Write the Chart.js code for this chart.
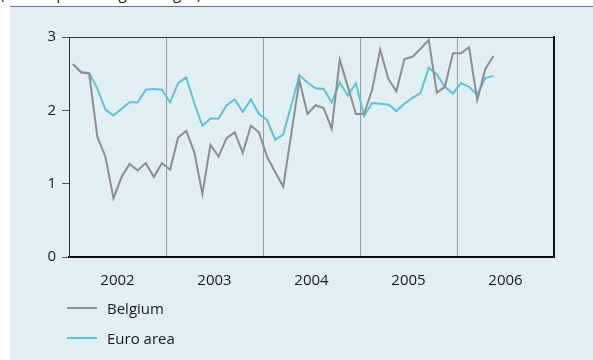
<!DOCTYPE html>
<html>
<head>
<meta charset="utf-8">
<script src="https://cdn.jsdelivr.net/npm/chart.js@4"></script>
<style>
  html, body { margin: 0; padding: 0; background: #fff; }
  body { width: 593px; height: 360px; position: relative; overflow: hidden; font-family: "Open Sans", sans-serif; }
  #caption { position: absolute; left: 0; top: 0; width: 593px; height: 6px; overflow: hidden; }
  #caption span { position: absolute; left: 0; top: -17px; font-size: 15px; line-height: 20px; color: #1a1a1a; white-space: nowrap; }
  #panel { position: absolute; left: 10px; top: 6px; right: 0; bottom: 0; background: #e1eef4; border-top: 1px solid #6b6bbd; }
  #chart { position: absolute; left: 0; top: 0; }
  .key { position: absolute; left: 67px; font-size: 15px; color: #1a1a1a; }
  .key i { position: absolute; left: 0; top: 10px; width: 30px; height: 2px; }
  .key span { position: absolute; left: 40px; top: 0; white-space: nowrap; line-height: 22px; }
</style>
</head>
<body>
<div id="caption"><span>(annual percentage changes)</span></div>
<div id="panel"></div>
<canvas id="chart" width="593" height="360"></canvas>
<div id="legend"></div>
<script>
// monthly data, Jan 2002 - May 2006
const years = ["2002", "2003", "2004", "2005", "2006"];
const seriesNames = ["Belgium", "Euro area"];
const seriesColors = ["#8f8d8e", "#5cc3d9"];

const belgium = [
    2.63, 2.52, 2.50, 1.64, 1.37, 0.80, 1.09, 1.27, 1.18, 1.28, 1.09, 1.28,
    1.19, 1.63, 1.72, 1.43, 0.86, 1.53, 1.37, 1.62, 1.70, 1.42, 1.79, 1.70,
    1.37, 1.16, 0.96, 1.68, 2.41, 1.95, 2.07, 2.03, 1.75, 2.69, 2.32, 1.95,
    1.95, 2.28, 2.83, 2.43, 2.26, 2.70, 2.73, 2.84, 2.96, 2.24, 2.32, 2.78,
    2.78, 2.86, 2.14, 2.56, 2.74
];
const euroArea = [
    2.63, 2.52, 2.51, 2.30, 2.01, 1.93, 2.02, 2.11, 2.11, 2.28, 2.29, 2.28,
    2.11, 2.37, 2.45, 2.10, 1.79, 1.89, 1.89, 2.07, 2.15, 1.98, 2.15, 1.95,
    1.87, 1.60, 1.67, 2.07, 2.48, 2.38, 2.30, 2.29, 2.11, 2.38, 2.20, 2.37,
    1.92, 2.10, 2.09, 2.08, 1.99, 2.09, 2.17, 2.24, 2.58, 2.49, 2.32, 2.23,
    2.37, 2.32, 2.21, 2.44, 2.47
];

const font = { family: "'Open Sans', sans-serif", size: 15 };
const textColor = "#1a1a1a";

function toPoints(values) {
    return values.map((v, i) => ({ x: i + 0.5, y: v })); // month centre
}

function makeDataset(values, k) {
    return {
        label: seriesNames[k],
        data: toPoints(values),
        borderColor: seriesColors[k],
        borderWidth: 2,
        pointRadius: 0,
        tension: 0,
        fill: false
    };
}

const chart = new Chart(document.getElementById("chart").getContext("2d"), {
    type: "line",
    data: {
        datasets: [makeDataset(belgium, 0), makeDataset(euroArea, 1)]
    },
    options: {
        responsive: false,
        animation: false,
        layout: { padding: { left: 29, top: 37, right: 39, bottom: 63 } },
        plugins: { legend: { display: false }, tooltip: { enabled: false } },
        scales: {
            x: {
                type: "linear",
                min: 0,
                max: years.length * 12,
                afterBuildTicks: (axis) => {
                    const t = [];
                    for (let v = 0; v <= years.length * 12; v += 6) t.push({ value: v });
                    axis.ticks = t;
                },
                afterFit: (axis) => { axis.height = 40; },
                ticks: {
                    autoSkip: false,
                    maxRotation: 0,
                    padding: 15,
                    font: font,
                    color: textColor,
                    callback: (v) => (v % 12 === 6 ? years[(v - 6) / 12] : "")
                },
                grid: {
                    drawTicks: false,
                    lineWidth: 1,
                    color: (ctx) => {
                        const v = ctx.tick ? ctx.tick.value : 0;
                        return v % 12 === 0 && v > 0 && v < years.length * 12 ? "#9a9a9a" : "rgba(0,0,0,0)";
                    }
                },
                border: { color: "#111", width: 2 }
            },
            x2: {
                type: "linear",
                position: "top",
                min: 0,
                max: 60,
                afterFit: (axis) => { axis.height = 0; },
                ticks: { display: false },
                grid: { display: false },
                border: { color: "#333", width: 1 }
            },
            y: {
                min: 0,
                max: 3,
                afterFit: (axis) => { axis.width = 40; },
                ticks: { stepSize: 1, padding: 6, font: font, color: textColor },
                grid: { drawOnChartArea: false, tickLength: 7, color: "#555", tickColor: "#555" },
                border: { color: "#333", width: 1 }
            },
            y2: {
                position: "right",
                min: 0,
                max: 3,
                afterFit: (axis) => { axis.width = 0; },
                ticks: { display: false },
                grid: { display: false },
                border: { color: "#111", width: 2 }
            }
        }
    }
});

// legend below the plot, one row per series
const legend = document.getElementById("legend");
chart.data.datasets.forEach((ds, k) => {
    const row = document.createElement("div");
    row.className = "key";
    row.style.top = (297 + k * 30) + "px";
    row.innerHTML = '<i style="background:' + ds.borderColor + '"></i><span>' + ds.label + "</span>";
    legend.appendChild(row);
});
</script>
</body>
</html>
